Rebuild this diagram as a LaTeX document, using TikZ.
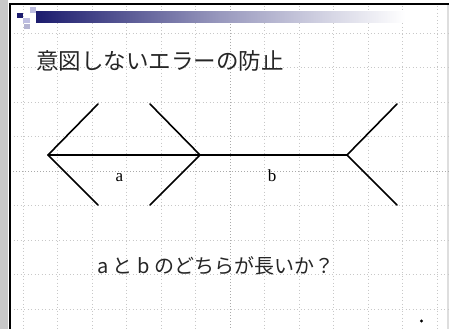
\documentclass[tikz,border=0pt]{standalone}
\usepackage{fontspec}
\newfontfamily\jpfont{Noto Sans CJK JP}
\newfontfamily\serifont{Liberation Serif}
\definecolor{navy}{RGB}{28,28,110}
\definecolor{lav}{RGB}{190,190,225}
\definecolor{gridc}{RGB}{200,200,200}
\definecolor{stripc}{RGB}{200,200,200}
\tikzset{
  gridline/.style={gridc, line width=0.5pt, dash pattern=on 0.7pt off 2.8pt},
  centerline/.style={gridc!85!black, line width=0.5pt, dash pattern=on 1pt off 2pt},
  fishline/.style={black, line width=1.6pt, line cap=round, line join=round},
  lbl/.style={font=\serifont\fontsize{17}{17}\selectfont, inner sep=0pt, anchor=base},
  jptext/.style={inner sep=0pt, anchor=base west, text=black!85},
}
\begin{document}
\begin{tikzpicture}[x=1pt,y=-1pt]
\useasboundingbox (0,0) rectangle (449,329);
\fill[white] (0,0) rectangle (449,329);
% left gray strip and right strip
\fill[stripc] (0,0) rectangle (8,329);
\fill[stripc!60] (447,5) rectangle (449,329);
% grid
\foreach \gx in {23,57.5,92,126.5,161,195.5,264.5,299,333.5,368,402.5,437}
  \draw[gridline] (\gx,6) -- (\gx,329);
\foreach \gy in {33,67.5,102,136.5,205.5,240,274.5,309}
  \draw[gridline] (10,\gy) -- (449,\gy);
\draw[centerline] (230,6) -- (230,329);
\draw[centerline] (10,171) -- (449,171);
% title bar
\shade[left color=navy, right color=white, middle color=navy!45!white] (36,12) rectangle (405,23);
\fill[navy] (17,13) rectangle (23,18);
\fill[lav] (30,7) rectangle (36,13);
\fill[lav] (23,18) rectangle (30,23);
\fill[lav!85!gray] (24,24) rectangle (30,29);
% borders
\draw[black, line width=2pt] (9,4.5) -- (449,4.5);
\draw[black, line width=2pt] (9.5,4) -- (9.5,329);
% title
\node[jptext, font=\jpfont\fontsize{22.5}{22.5}\selectfont] (title) at (36,70) {意図しないエラーの防止};
% fish figure
\coordinate (v1) at (48,155);
\coordinate (v2) at (200,155);
\coordinate (v3) at (347,155);
\coordinate (a1) at (98,104);
\coordinate (a2) at (98,205);
\coordinate (b1) at (150,104);
\coordinate (b2) at (150,205);
\coordinate (c1) at (397,104);
\coordinate (c2) at (397,205);
\draw[fishline] (v1) -- (v3);
\draw[fishline] (a1) -- (v1) -- (a2);
\draw[fishline] (b1) -- (v2) -- (b2);
\draw[fishline] (c1) -- (v3) -- (c2);
\node[lbl] (la) at (119.5,181) {a};
\node[lbl] (lb) at (272,181) {b};
% question
\node[jptext, font=\jpfont\fontsize{20}{20}\selectfont] (q) at (97,273.5) {a と b のどちらが長いか？};
% small mark
\fill[black] (421.5,321) circle (1.6);
\end{tikzpicture}
\end{document}
